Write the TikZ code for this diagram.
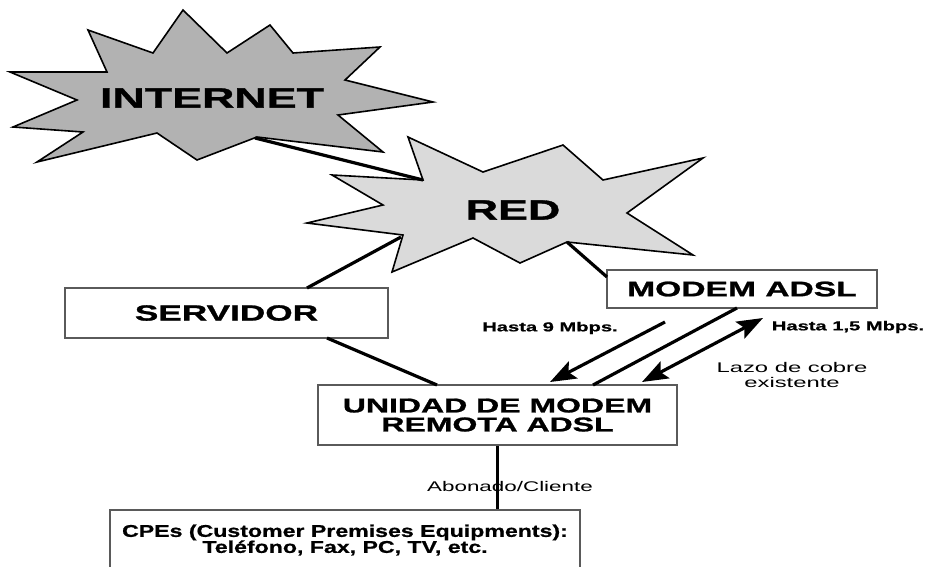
\documentclass[tikz,border=0pt]{standalone}
\usepackage{fontspec}
\setmainfont{Liberation Sans}
\newfontfamily\wf{Liberation Sans}[FakeStretch=1.6, BoldFeatures={FakeBold=1.2}]
\newfontfamily\wfs{Liberation Sans}[FakeStretch=1.55, BoldFeatures={FakeBold=0.8}]
\newfontfamily\wfc{Liberation Sans}[FakeStretch=1.36, BoldFeatures={FakeBold=0.8}]
\newfontfamily\wfl{Liberation Sans}[FakeStretch=1.7]
\usetikzlibrary{arrows.meta}
\definecolor{inetgray}{RGB}{178,178,178}
\definecolor{redgray}{RGB}{218,218,218}
\definecolor{boxline}{RGB}{90,90,90}
\tikzset{
  star/.style={draw=black, line width=1.6pt, line join=miter},
  box/.style={draw=boxline, line width=1.6pt, fill=white, rectangle, inner sep=0pt, align=center},
  conn/.style={line width=3.2pt, black},
  bigarrow/.style={conn, -{Stealth[length=26pt,width=19pt,inset=5pt]}},
  dblarrow/.style={conn, {Stealth[length=26pt,width=19pt,inset=5pt]}-{Stealth[length=26pt,width=19pt,inset=5pt]}},
  lbl/.style={inner sep=0pt, align=center}
}
\begin{document}
\begin{tikzpicture}[x=1pt,y=-1pt]
\useasboundingbox (0,0) rectangle (927,566);
\fill[white] (0,0) rectangle (927,566);

% INTERNET star
\draw[star, fill=inetgray] (10,72) -- (107,72) -- (88,30) -- (153,53) -- (183,10) -- (227,53) -- (270,25) -- (293,53) -- (380,47) -- (345,80) -- (433,102) -- (338,115) -- (383,152) -- (257,137) -- (197,160) -- (157,133) -- (37,162) -- (83,132) -- (13,127) -- (77,100) -- cycle;
\node[lbl, font=\wf\bfseries\fontsize{28}{30}\selectfont] (internet) at (212,98) {INTERNET};
\coordinate (inetout) at (255,138);

% RED star
\draw[star, fill=redgray] (408,137) -- (483,172) -- (563,145) -- (603,180) -- (703,158) -- (627,213) -- (693,255) -- (567,242) -- (520,263) -- (473,238) -- (392,272) -- (403,235) -- (307,223) -- (383,205) -- (332,175) -- (423,180) -- cycle;
\node[lbl, font=\wf\bfseries\fontsize{28}{30}\selectfont] (red) at (513,210) {RED};
\coordinate (redin) at (423,180);
\coordinate (redsrv) at (401,237);
\coordinate (redmod) at (567,242);

% Boxes
\node[box, minimum width=323pt, minimum height=50pt, font=\wf\bfseries\fontsize{22}{24}\selectfont] (serv) at (226.5,313) {SERVIDOR};
\node[box, minimum width=270pt, minimum height=38pt, font=\wf\bfseries\fontsize{21}{23}\selectfont] (modem) at (742,289) {MODEM ADSL};
\node[box, minimum width=359pt, minimum height=60pt, font=\wf\bfseries\fontsize{20}{19}\selectfont] (unidad) at (497.5,415) {UNIDAD DE MODEM\\REMOTA ADSL};
\node[box, minimum width=470pt, minimum height=60pt, font=\wfc\bfseries\fontsize{17}{16}\selectfont] (cpe) at (345,540) {CPEs (Customer Premises Equipments):\\Teléfono, Fax, PC, TV, etc.};

% connector end points
\coordinate (servtop) at (307,288);
\coordinate (servbot) at (327,338);
\coordinate (unitop1) at (437,385);
\coordinate (modleft) at (607,277);
\coordinate (modbot) at (737,308);
\coordinate (unitop2) at (593,385);
\coordinate (a1s) at (665,322);
\coordinate (a1e) at (550,382);
\coordinate (a2s) at (763,318);
\coordinate (a2e) at (642,382);

% connectors
\draw[conn] (inetout) -- (redin);
\draw[conn] (redsrv) -- (servtop);
\draw[conn] (redmod) -- (modleft);
\draw[conn] (servbot) -- (unitop1);
\draw[conn] (modbot) -- (unitop2);
\draw[conn] (unidad.south) -- (unidad.south |- cpe.north);
\draw[bigarrow] (a1s) -- (a1e);
\draw[dblarrow] (a2s) -- (a2e);

% labels
\node[lbl, font=\wfs\bfseries\fontsize{13}{14}\selectfont] (down) at (550,328) {Hasta 9 Mbps.};
\node[lbl, font=\wfs\bfseries\fontsize{13}{14}\selectfont] (up) at (848,327) {Hasta 1,5 Mbps.};
\node[lbl, font=\wfl\fontsize{14}{14.5}\selectfont] (lazo) at (792,375) {Lazo de cobre\\existente};
\node[lbl, font=\wf\fontsize{14}{15}\selectfont] (abon) at (510,486) {Abonado/Cliente};
\end{tikzpicture}
\end{document}
